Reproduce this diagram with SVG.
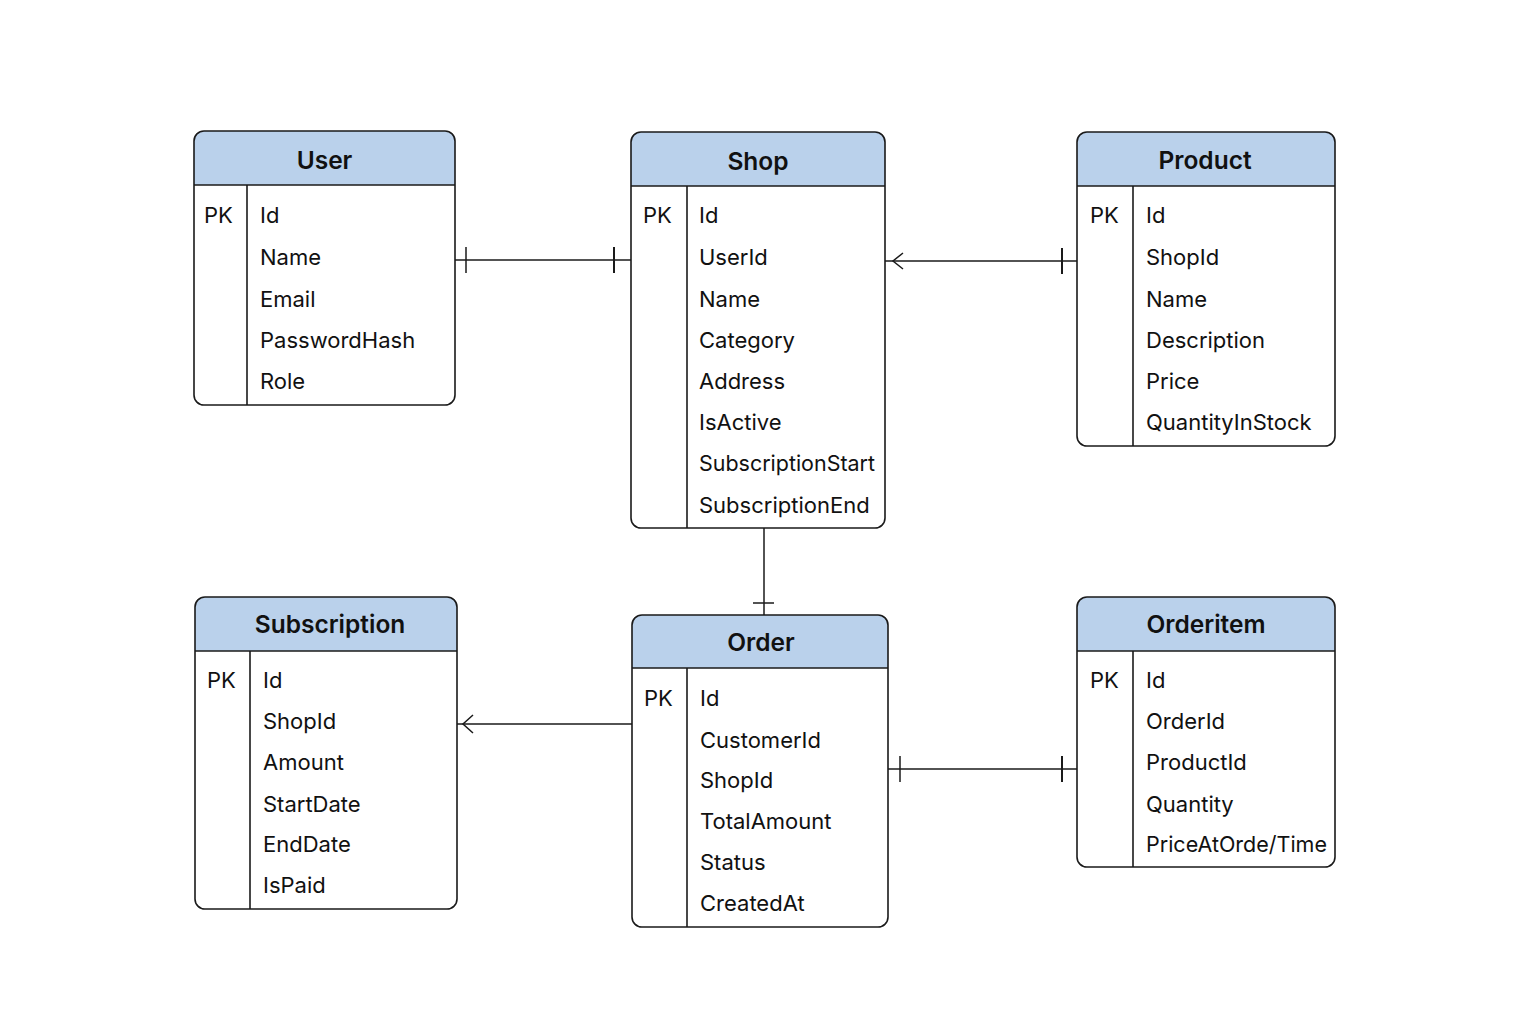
<svg xmlns="http://www.w3.org/2000/svg" width="1536" height="1024" viewBox="0 0 1536 1024">
<style>
.box{fill:none;stroke:#1a1a1a;stroke-width:1.6}
.hdr{fill:#bad1eb}
.ln{stroke:#1a1a1a;stroke-width:1.6;fill:none}
.title{font-family:Inter,"Liberation Sans",sans-serif;font-size:24.5px;font-weight:600;fill:#111;text-anchor:middle}
.t{font-family:Inter,"Liberation Sans",sans-serif;font-size:22px;fill:#111}
.c{stroke:#1a1a1a;stroke-width:1.5;fill:none}
</style>
<rect width="1536" height="1024" fill="#ffffff"/>

<g id="user">
<path class="hdr" d="M194,185 V141 a10,10 0 0 1 10,-10 H445 a10,10 0 0 1 10,10 V185 Z"/>
<rect class="box" x="194" y="131" width="261" height="274" rx="10"/>
<line class="ln" x1="194" y1="185" x2="455" y2="185"/>
<line class="ln" x1="247" y1="185" x2="247" y2="405"/>
<text class="title" x="324.5" y="169">User</text>
<text class="t" x="204" y="223">PK</text>
<text class="t" x="260" y="223">Id</text>
<text class="t" x="260" y="265">Name</text>
<text class="t" x="260" y="307">Email</text>
<text class="t" x="260" y="348">PasswordHash</text>
<text class="t" x="260" y="389">Role</text>
</g>

<g id="shop">
<path class="hdr" d="M631,186 V142 a10,10 0 0 1 10,-10 H875 a10,10 0 0 1 10,10 V186 Z"/>
<rect class="box" x="631" y="132" width="254" height="396" rx="10"/>
<line class="ln" x1="631" y1="186" x2="885" y2="186"/>
<line class="ln" x1="687" y1="186" x2="687" y2="528"/>
<text class="title" x="758" y="170">Shop</text>
<text class="t" x="643" y="223">PK</text>
<text class="t" x="699" y="223">Id</text>
<text class="t" x="699" y="265">UserId</text>
<text class="t" x="699" y="307">Name</text>
<text class="t" x="699" y="348">Category</text>
<text class="t" x="699" y="389">Address</text>
<text class="t" x="699" y="430">IsActive</text>
<text class="t" x="699" y="471" textLength="176" lengthAdjust="spacingAndGlyphs">SubscriptionStart</text>
<text class="t" x="699" y="513">SubscriptionEnd</text>
</g>

<g id="product">
<path class="hdr" d="M1077,186 V142 a10,10 0 0 1 10,-10 H1325 a10,10 0 0 1 10,10 V186 Z"/>
<rect class="box" x="1077" y="132" width="258" height="314" rx="10"/>
<line class="ln" x1="1077" y1="186" x2="1335" y2="186"/>
<line class="ln" x1="1133" y1="186" x2="1133" y2="446"/>
<text class="title" x="1205" y="169">Product</text>
<text class="t" x="1090" y="223">PK</text>
<text class="t" x="1146" y="223">Id</text>
<text class="t" x="1146" y="265">ShopId</text>
<text class="t" x="1146" y="307">Name</text>
<text class="t" x="1146" y="348">Description</text>
<text class="t" x="1146" y="389">Price</text>
<text class="t" x="1146" y="430">QuantityInStock</text>
</g>

<g id="subscription">
<path class="hdr" d="M195,651 V607 a10,10 0 0 1 10,-10 H447 a10,10 0 0 1 10,10 V651 Z"/>
<rect class="box" x="195" y="597" width="262" height="312" rx="10"/>
<line class="ln" x1="195" y1="651" x2="457" y2="651"/>
<line class="ln" x1="250" y1="651" x2="250" y2="909"/>
<text class="title" x="330" y="633">Subscription</text>
<text class="t" x="207" y="688">PK</text>
<text class="t" x="263" y="688">Id</text>
<text class="t" x="263" y="729">ShopId</text>
<text class="t" x="263" y="770">Amount</text>
<text class="t" x="263" y="812">StartDate</text>
<text class="t" x="263" y="852">EndDate</text>
<text class="t" x="263" y="893">IsPaid</text>
</g>

<g id="order">
<path class="hdr" d="M632,668 V625 a10,10 0 0 1 10,-10 H878 a10,10 0 0 1 10,10 V668 Z"/>
<rect class="box" x="632" y="615" width="256" height="312" rx="10"/>
<line class="ln" x1="632" y1="668" x2="888" y2="668"/>
<line class="ln" x1="687" y1="668" x2="687" y2="927"/>
<text class="title" x="761" y="651">Order</text>
<text class="t" x="644" y="706">PK</text>
<text class="t" x="700" y="706">Id</text>
<text class="t" x="700" y="748">CustomerId</text>
<text class="t" x="700" y="788">ShopId</text>
<text class="t" x="700" y="829">TotalAmount</text>
<text class="t" x="700" y="870">Status</text>
<text class="t" x="700" y="911">CreatedAt</text>
</g>

<g id="orderitem">
<path class="hdr" d="M1077,651 V607 a10,10 0 0 1 10,-10 H1325 a10,10 0 0 1 10,10 V651 Z"/>
<rect class="box" x="1077" y="597" width="258" height="270" rx="10"/>
<line class="ln" x1="1077" y1="651" x2="1335" y2="651"/>
<line class="ln" x1="1133" y1="651" x2="1133" y2="867"/>
<text class="title" x="1206" y="633">Orderitem</text>
<text class="t" x="1090" y="688">PK</text>
<text class="t" x="1146" y="688">Id</text>
<text class="t" x="1146" y="729">OrderId</text>
<text class="t" x="1146" y="770">ProductId</text>
<text class="t" x="1146" y="812">Quantity</text>
<text class="t" x="1146" y="852" textLength="181" lengthAdjust="spacingAndGlyphs">PriceAtOrde/Time</text>
</g>

<g id="connectors">
<line class="c" x1="455" y1="260" x2="631" y2="260"/>
<line class="c" x1="466" y1="247" x2="466" y2="273"/>
<line class="c" x1="614" y1="247" x2="614" y2="273" style="stroke-width:2"/>

<line class="c" x1="885" y1="261" x2="1077" y2="261"/>
<polyline class="c" points="903,253 893,261 903,269"/>
<line class="c" x1="1062" y1="248" x2="1062" y2="274" style="stroke-width:2"/>

<line class="c" x1="764" y1="528" x2="764" y2="615"/>
<line class="c" x1="753" y1="603" x2="774" y2="603"/>

<line class="c" x1="457" y1="724" x2="632" y2="724"/>
<polyline class="c" points="473,715 463,724 473,733"/>

<line class="c" x1="888" y1="769" x2="1077" y2="769"/>
<line class="c" x1="900" y1="756" x2="900" y2="782"/>
<line class="c" x1="1062" y1="756" x2="1062" y2="782" style="stroke-width:2"/>
</g>
</svg>
